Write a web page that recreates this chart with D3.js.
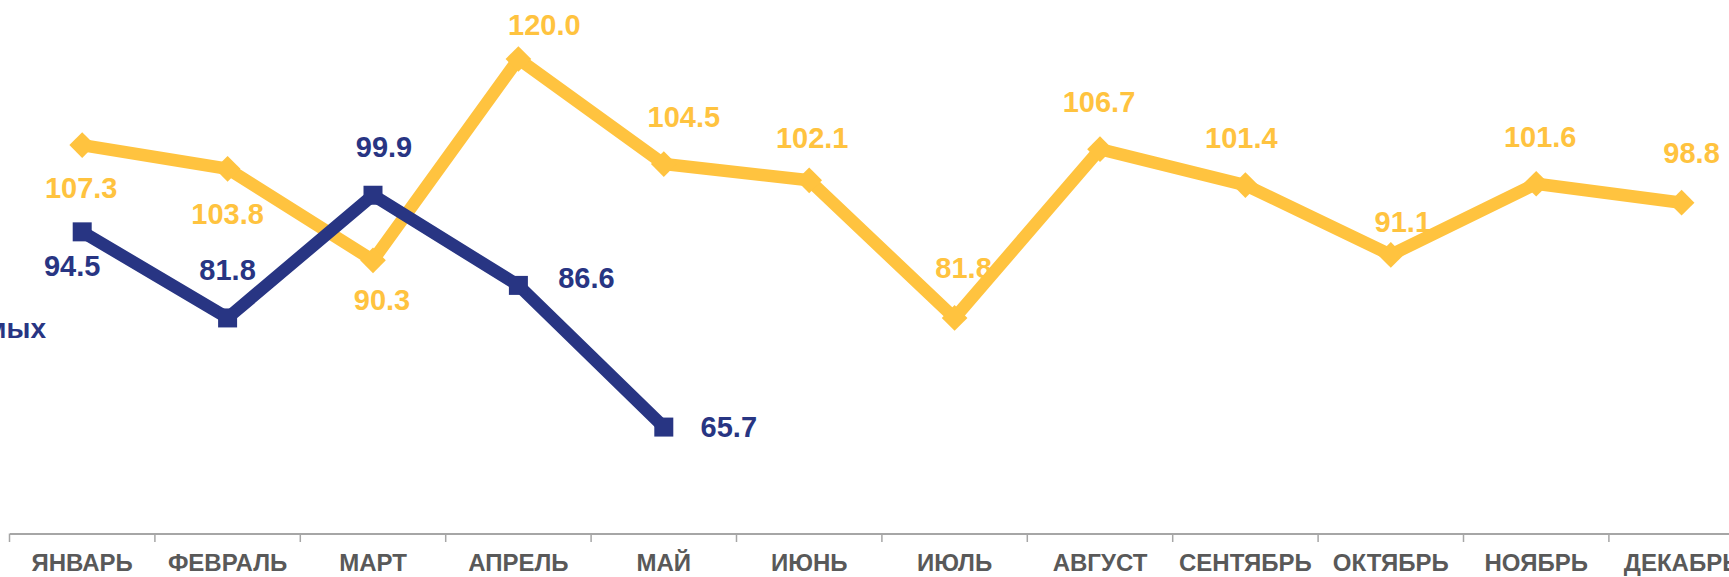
<!DOCTYPE html>
<html>
<head>
<meta charset="utf-8">
<script src="https://cdn.jsdelivr.net/npm/d3@7"></script>
<style>
  html, body { margin: 0; padding: 0; background: #fff; overflow: hidden; }
  svg { display: block; }
  text { font-family: "Liberation Sans", Arial, sans-serif; font-weight: bold; }
</style>
</head>
<body>
<div id="chart"></div>
<script>
// months along the x axis
var months = ["ЯНВАРЬ", "ФЕВРАЛЬ", "МАРТ", "АПРЕЛЬ", "МАЙ", "ИЮНЬ",
              "ИЮЛЬ", "АВГУСТ", "СЕНТЯБРЬ", "ОКТЯБРЬ", "НОЯБРЬ", "ДЕКАБРЬ"];

// yellow series (full year)
var yellowValues = [107.3, 103.8, 90.3, 120.0, 104.5, 102.1, 81.8, 106.7, 101.4, 91.1, 101.6, 98.8];
// blue series (first five months)
var blueValues = [94.5, 81.8, 99.9, 86.6, 65.7];

// where each value label sits relative to its marker [dx, dy]
var yellowLabelPos = [[-1, 53], [0, 55], [9, 50], [26, -24], [20, -37], [3, -32],
                      [9, -40], [-1, -37], [-4, -37], [12, -23], [4, -37], [10, -40]];
var blueLabelPos = [[-10, 44], [0, -38], [11, -38], [68, 3], [65, 10]];

var width = 1729, height = 577;
var yellow = "#FFC33F", blue = "#283583", grey = "#595959";

var svg = d3.select("#chart")
  .append("svg")
    .attr("width", width)
    .attr("height", height);

// set the ranges (plot runs past the right edge, as in the picture)
var x = d3.scaleBand()
  .domain(months)
  .range([9.5, 9.5 + 12 * 145.4]);

var y = d3.scaleLinear()
  .domain([50, 130])
  .range([533.5, -8.8]);

var cx = function(d, i) { return x(months[i]) + x.bandwidth() / 2; };

// x axis
var axis = svg.append("g")
  .attr("transform", "translate(0,533.5)")
  .call(d3.axisBottom(x).tickSize(0).tickPadding(0));
axis.select(".domain").attr("stroke", "#a6a6a6").attr("stroke-width", 2);
axis.selectAll(".tick text").remove();

// tick marks between categories
svg.append("g").selectAll("line")
  .data(d3.range(13)).enter().append("line")
    .attr("x1", function(i) { return x.range()[0] + i * x.step(); })
    .attr("x2", function(i) { return x.range()[0] + i * x.step(); })
    .attr("y1", 533.5).attr("y2", 542)
    .attr("stroke", "#a6a6a6").attr("stroke-width", 1.5);

svg.append("g").selectAll("text")
  .data(months).enter().append("text")
    .attr("x", function(d) { return x(d) + x.bandwidth() / 2; })
    .attr("y", 571)
    .attr("text-anchor", "middle")
    .attr("fill", grey)
    .style("font-size", "24px")
    .text(function(d) { return d; });

// partly hidden legend text on the left
svg.append("text")
  .attr("x", 46).attr("y", 338)
  .attr("text-anchor", "end")
  .attr("fill", blue)
  .style("font-size", "28px")
  .text("емых");

var line = d3.line()
  .x(cx)
  .y(function(d) { return y(d); });

function drawSeries(values, color, symbol, size) {
  var g = svg.append("g");
  g.append("path")
    .datum(values)
    .attr("d", line)
    .attr("fill", "none")
    .attr("stroke", color)
    .attr("stroke-width", 12.5)
    .attr("stroke-linejoin", "miter");

  g.selectAll(".pt")
    .data(values).enter().append("path")
      .attr("class", "pt")
      .attr("transform", function(d, i) { return "translate(" + cx(d, i) + "," + y(d) + ")"; })
      .attr("d", d3.symbol().type(symbol).size(size))
      .attr("fill", color);

  return g;
}

function drawLabels(values, color, labelPos) {
  svg.append("g").selectAll("text")
    .data(values).enter().append("text")
      .attr("x", function(d, i) { return cx(d, i) + labelPos[i][0]; })
      .attr("y", function(d, i) { return y(d) + labelPos[i][1]; })
      .attr("text-anchor", "middle")
      .attr("fill", color)
      .style("font-size", "29px")
      .text(function(d) { return d.toFixed(1); });
}

// yellow first, blue drawn on top
drawSeries(yellowValues, yellow, d3.symbolDiamond2, 420);
drawSeries(blueValues, blue, d3.symbolSquare, 361);
drawLabels(yellowValues, yellow, yellowLabelPos);
drawLabels(blueValues, blue, blueLabelPos);
</script>
</body>
</html>
